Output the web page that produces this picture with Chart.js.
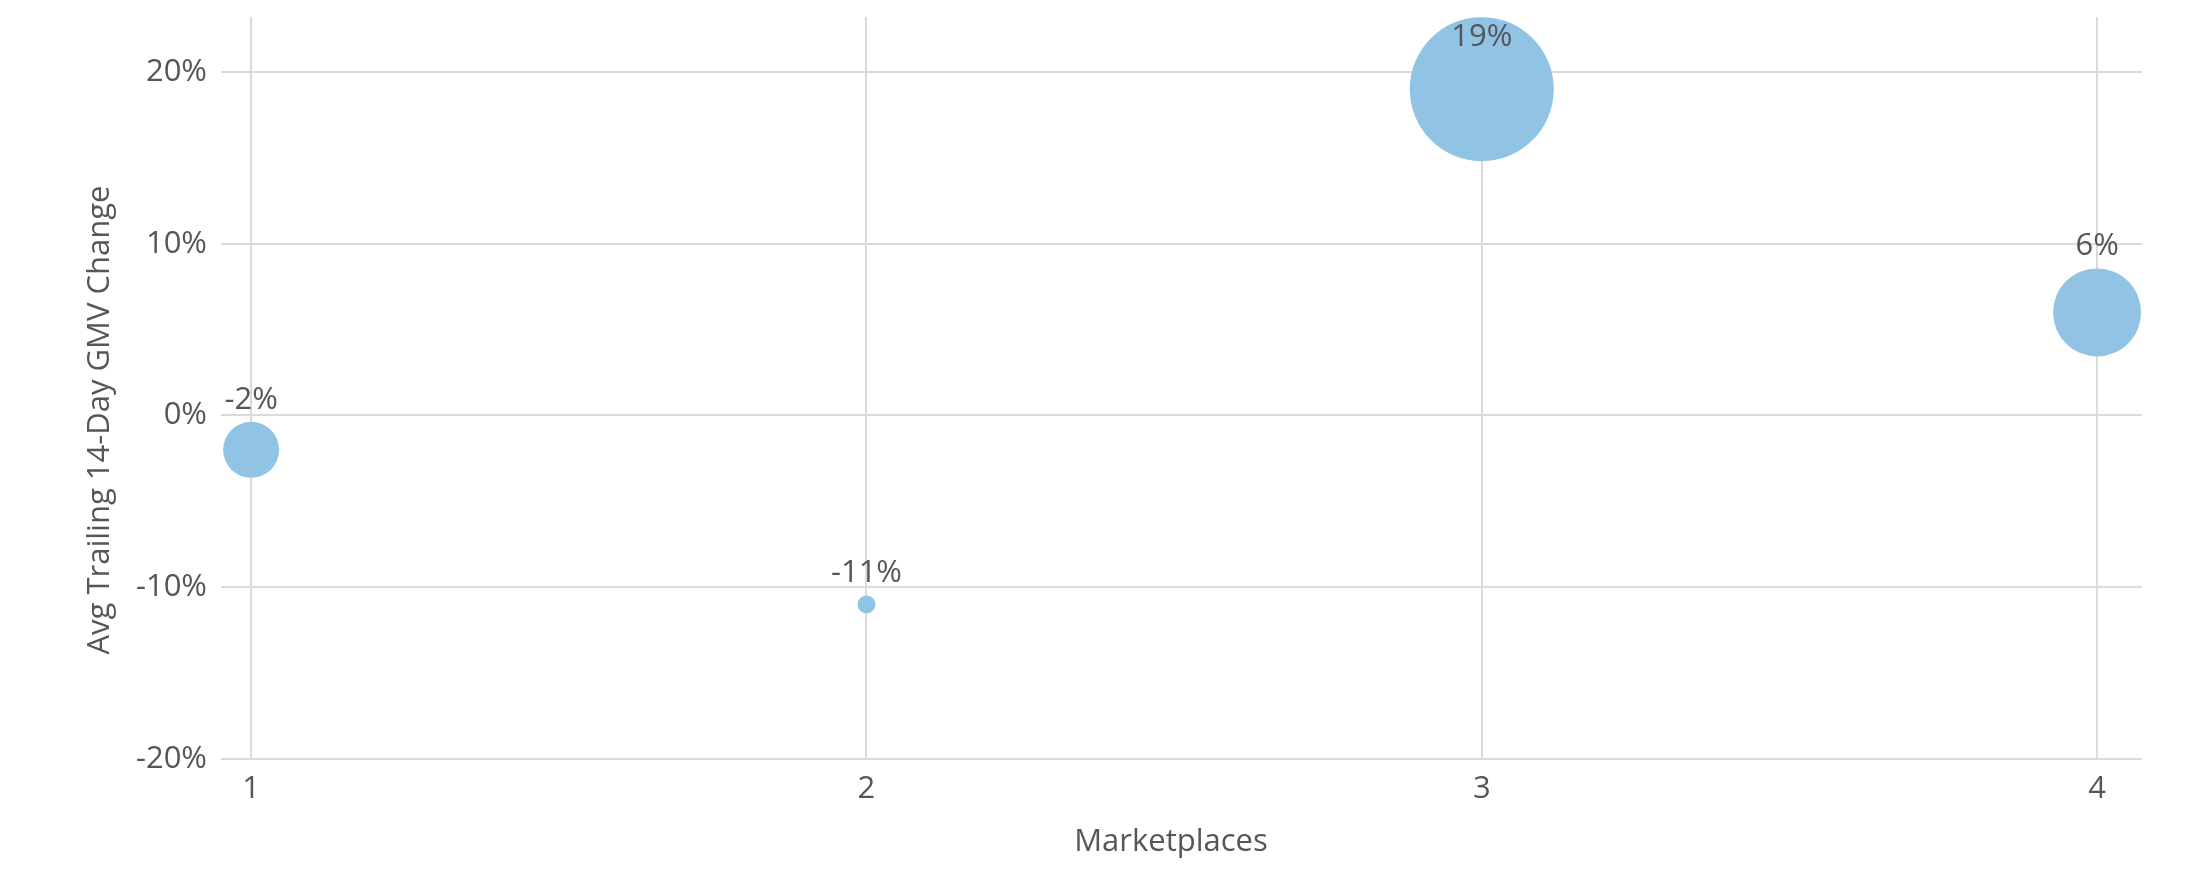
<!DOCTYPE html>
<html>
<head>
<meta charset="utf-8">
<script src="https://cdn.jsdelivr.net/npm/chart.js@4"></script>
<style>
  html, body { margin: 0; padding: 0; background: #fff; }
  #wrap { width: 2188px; height: 880px; }
</style>
</head>
<body>
<div id="wrap"><canvas id="myChart"></canvas></div>
<script>
// data
const marketplaces = [1, 2, 3, 4];
const gmvChange = [-2, -11, 19, 6];      // avg trailing 14-day GMV change, %
const bubbleSize = [28, 9, 72, 44];      // bubble radius
const yTicks = [-20, -10, 0, 10, 20];

const textColor = '#53575c';
const gridColor = '#dadada';
const bubbleColor = '#91c4e4';
const fontFamily = '"Open Sans", sans-serif';

let punts = [];
for (let i = 0; i < marketplaces.length; i++) {
    punts.push({ x: marketplaces[i], y: gmvChange[i], r: bubbleSize[i] });
}

// value labels over each bubble
const etiquetes = {
    id: 'etiquetes',
    afterDatasetsDraw(chart) {
        const ctx = chart.ctx;
        const meta = chart.getDatasetMeta(0);
        ctx.save();
        ctx.font = '31px ' + fontFamily;
        ctx.fillStyle = textColor;
        ctx.textAlign = 'center';
        ctx.textBaseline = 'alphabetic';
        meta.data.forEach((el, i) => {
            let y = el.y - el.options.radius - 13;
            y = Math.max(y, chart.chartArea.top + 29);
            ctx.fillText(gmvChange[i] + '%', el.x, y);
        });
        ctx.restore();
    }
};

// axis titles
const titols = {
    id: 'titols',
    afterDraw(chart) {
        const ctx = chart.ctx;
        ctx.save();
        ctx.font = '31px ' + fontFamily;
        ctx.fillStyle = textColor;
        ctx.textAlign = 'center';
        ctx.textBaseline = 'middle';
        ctx.fillText('Marketplaces', 1171, 842);
        ctx.translate(100, 420);
        ctx.rotate(-Math.PI / 2);
        ctx.fillText('Avg Trailing 14-Day GMV Change', 0, 0);
        ctx.restore();
    }
};

const ctx = document.getElementById('myChart');
const myChart = new Chart(ctx, {
    type: 'bubble',
    data: {
        datasets: [{
            label: 'GMV Change',
            data: punts,
            backgroundColor: bubbleColor,
            hoverBackgroundColor: bubbleColor,
            borderWidth: 0,
            hoverBorderWidth: 0,
            clip: false
        }]
    },
    options: {
        responsive: true,
        maintainAspectRatio: false,
        animation: false,
        devicePixelRatio: 1,
        layout: {
            autoPadding: false,
            padding: { top: 17, right: 46, bottom: 0, left: 0 }
        },
        plugins: {
            legend: { display: false },
            tooltip: { enabled: false }
        },
        scales: {
            x: {
                type: 'linear',
                min: 0.951,
                max: 4.073,
                afterFit: (scale) => {
                    scale.height = 121;
                    scale.paddingLeft = 0;
                    scale.paddingRight = 0;
                },
                afterBuildTicks: (scale) => {
                    scale.ticks = marketplaces.map(v => ({ value: v }));
                },
                grid: { color: gridColor, lineWidth: 2, drawTicks: false },
                border: { display: false },
                ticks: {
                    padding: 12,
                    color: textColor,
                    font: { family: fontFamily, size: 31 }
                }
            },
            y: {
                type: 'linear',
                min: -20,
                max: 23.2,
                afterFit: (scale) => {
                    scale.width = 221;
                    scale.paddingTop = 0;
                    scale.paddingBottom = 0;
                },
                afterBuildTicks: (scale) => {
                    scale.ticks = yTicks.map(v => ({ value: v }));
                },
                grid: { color: gridColor, lineWidth: 2, drawTicks: false },
                border: { display: false },
                ticks: {
                    padding: 14,
                    color: textColor,
                    font: { family: fontFamily, size: 31 },
                    callback: (v) => v + '%'
                }
            }
        }
    },
    plugins: [etiquetes, titols]
});
</script>
</body>
</html>
